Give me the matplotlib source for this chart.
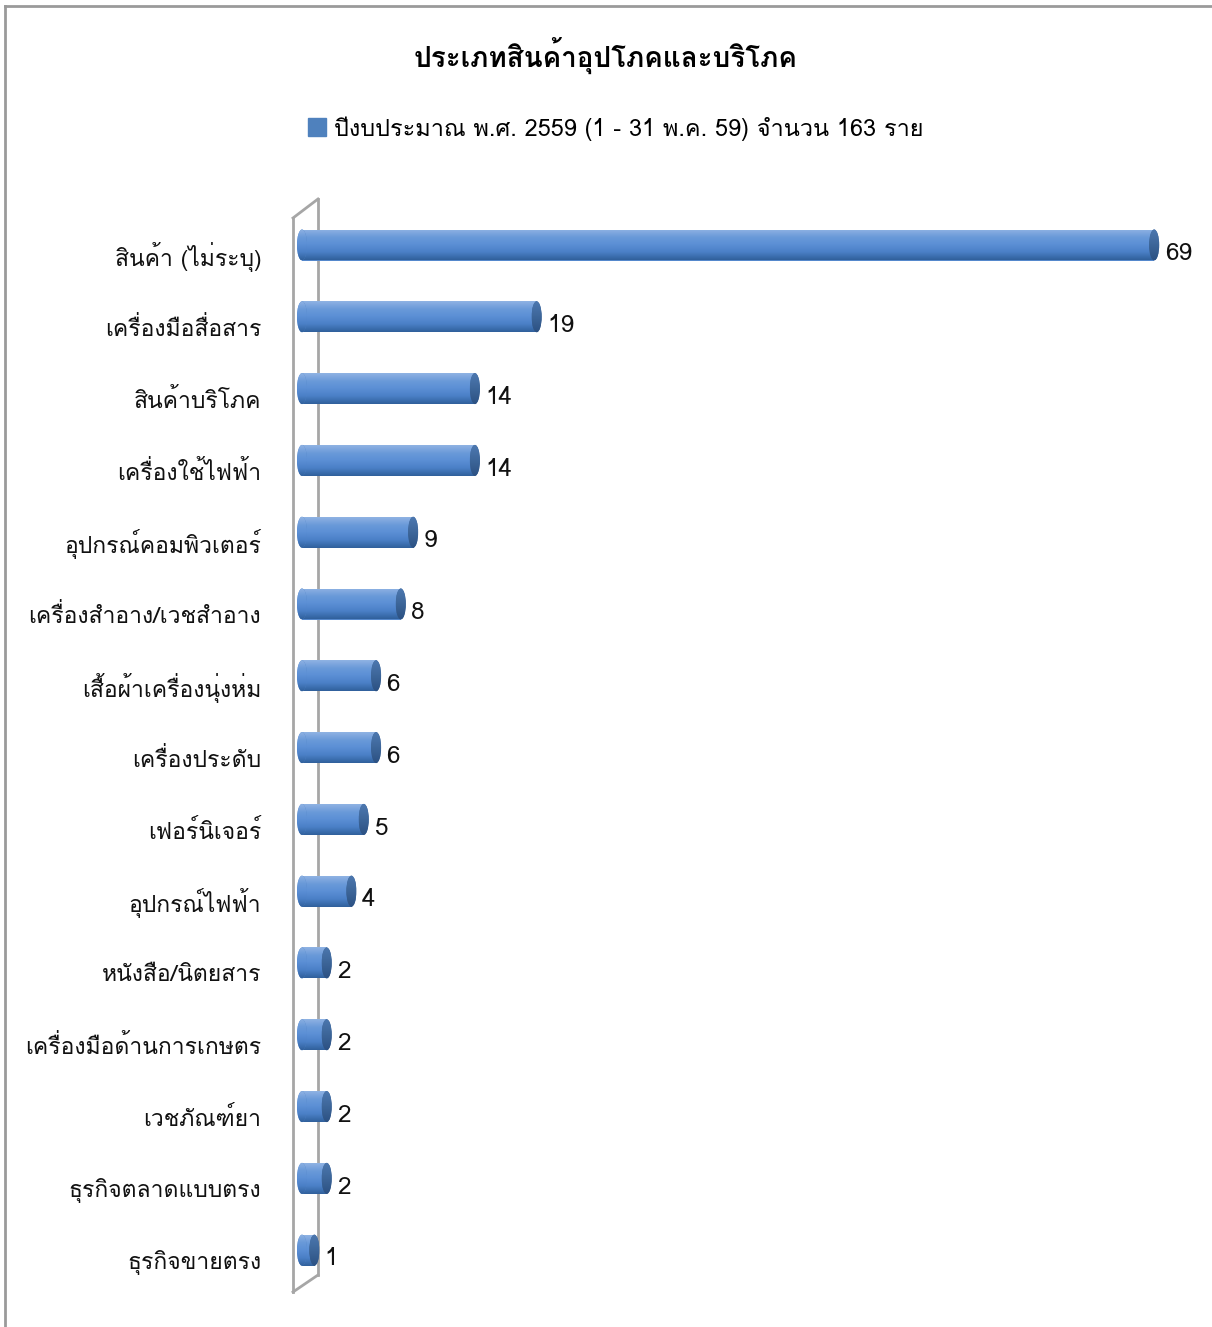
import matplotlib
matplotlib.use("Agg")
import matplotlib.pyplot as plt
from matplotlib import font_manager
from matplotlib.ft2font import FT2Font
from matplotlib.patches import Ellipse
from matplotlib.lines import Line2D
import numpy as np

categories = ["สินค้า (ไม่ระบุ)", "เครื่องมือสื่อสาร", "สินค้าบริโภค", "เครื่องใช้ไฟฟ้า",
              "อุปกรณ์คอมพิวเตอร์", "เครื่องสำอาง/เวชสำอาง", "เสื้อผ้าเครื่องนุ่งห่ม",
              "เครื่องประดับ", "เฟอร์นิเจอร์", "อุปกรณ์ไฟฟ้า", "หนังสือ/นิตยสาร",
              "เครื่องมือด้านการเกษตร", "เวชภัณฑ์ยา", "ธุรกิจตลาดแบบตรง", "ธุรกิจขายตรง"]
values = [69, 19, 14, 14, 9, 8, 6, 6, 5, 4, 2, 2, 2, 2, 1]
title = "ประเภทสินค้าอุปโภคและบริโภค"
series_name = "ปีงบประมาณ พ.ศ. 2559 (1 - 31 พ.ค. 59) จำนวน 163 ราย"

# find a font that can draw Thai
thai_font = None
for f in font_manager.fontManager.ttflist:
    try:
        cmap = FT2Font(f.fname).get_charmap()
    except Exception:
        continue
    if 0x0E2A in cmap and 0x0E49 in cmap:
        thai_font = f.name
        if "Sans" in f.name or "Loma" in f.name:
            break
fams = [thai_font, "DejaVu Sans"] if thai_font else ["DejaVu Sans"]
plt.rcParams["font.family"] = fams

W, H = 1212, 1327
fig = plt.figure(figsize=(W / 100, H / 100), dpi=100)

def fx(px):
    return px / W

def fy(py):
    return 1 - py / H

# outer frame (top and left visible)
fig.add_artist(Line2D([fx(5), fx(5)], [fy(6), 0], color="#9a9a9a", lw=2))
fig.add_artist(Line2D([fx(5), 1], [fy(6), fy(6)], color="#9a9a9a", lw=2))

# 3D wall, behind the bars
wall = dict(color="#a6a6a6", lw=2, zorder=-5)
fig.add_artist(Line2D([fx(293), fx(293)], [fy(218), fy(1292)], **wall))
fig.add_artist(Line2D([fx(318), fx(318)], [fy(199), fy(1275)], **wall))
fig.add_artist(Line2D([fx(293), fx(318)], [fy(218), fy(199)], **wall))
fig.add_artist(Line2D([fx(293), fx(318)], [fy(1292), fy(1275)], **wall))

px_unit = 12.35
zero_px = 302
ax_left, ax_right, ax_top, ax_bot = 290, 1200, 200, 1292
ax = fig.add_axes([fx(ax_left), fy(ax_bot), fx(ax_right - ax_left), (ax_bot - ax_top) / H])
ax.set_xlim(-(zero_px - ax_left) / px_unit, (ax_right - zero_px) / px_unit)
ax.set_ylim((ax_bot - 245) / 71.8, -(245 - ax_top) / 71.8)
ax.axis("off")

bar_h = 31 / 71.8
cap_w = 10 / px_unit
grad = np.linspace(0, 1, 64).reshape(-1, 1)
cmap_bar = matplotlib.colors.LinearSegmentedColormap.from_list(
    "cyl", ["#8fb2e3", "#6a9ad9", "#5b8fd5", "#4a7fc6", "#30609c"])
cmap_cap = matplotlib.colors.LinearSegmentedColormap.from_list(
    "cap", ["#4d78b0", "#3d6699", "#2c5183"])

for i, v in enumerate(values):
    rects = ax.barh(i, v, height=bar_h, color="#5588cc", lw=0, zorder=2)
    r = rects[0]
    im = ax.imshow(np.hstack([grad, grad]), cmap=cmap_bar, aspect="auto",
                   extent=(0, v, i + bar_h / 2, i - bar_h / 2), zorder=3,
                   interpolation="bilinear")
    im.set_clip_path(r)
    # rounded left end
    left = Ellipse((0, i), cap_w, bar_h, color="#5385c8", lw=0, zorder=3.2)
    ax.add_patch(left)
    iml = ax.imshow(np.hstack([grad, grad]), cmap=cmap_bar, aspect="auto",
                    extent=(-cap_w / 2, cap_w / 2, i + bar_h / 2, i - bar_h / 2), zorder=3.3,
                    interpolation="bilinear")
    iml.set_clip_path(left)
    # darker end cap
    cap = Ellipse((v, i), cap_w, bar_h, color="#3e6699", lw=0, zorder=4)
    ax.add_patch(cap)
    imc = ax.imshow(np.hstack([grad, grad]), cmap=cmap_cap, aspect="auto",
                    extent=(v - cap_w / 2, v + cap_w / 2, i + bar_h / 2, i - bar_h / 2),
                    zorder=4.1, interpolation="bilinear")
    imc.set_clip_path(cap)
    ax.text(v + 0.85, i + 0.12, str(v), va="center", ha="left", fontsize=17.5, color="#111111")
    ax.text(-3.3, i + 0.17, categories[i], va="center", ha="right", fontsize=16.5,
            color="#111111", clip_on=False)

fig.text(0.5, fy(56), title, ha="center", va="center", fontsize=20, fontweight="bold")
fig.add_artist(matplotlib.patches.Rectangle((fx(308), fy(136)), fx(18), 18 / H,
                                            color="#4f81bd", transform=fig.transFigure))
fig.text(fx(334), fy(129), series_name, ha="left", va="center", fontsize=16.9)

fig.savefig("out.png", dpi=100)
